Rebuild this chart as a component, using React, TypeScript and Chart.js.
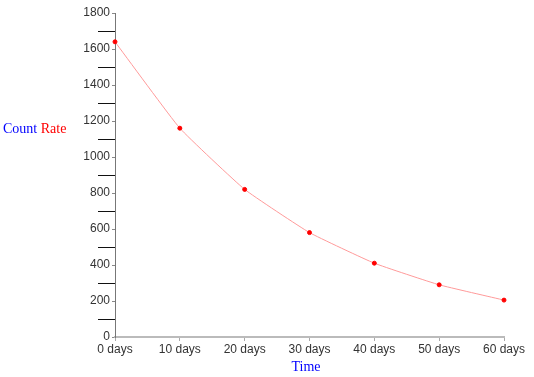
import React, { useEffect, useRef } from "react";
import { Chart, registerables } from "chart.js";

Chart.register(...registerables);

const categories = ["0 days", "10 days", "20 days", "30 days", "40 days", "50 days", "60 days"];
const countRate = [1640, 1160, 820, 580, 410, 290, 205];
const minorTicks = [100, 300, 500, 700, 900, 1100, 1300, 1500, 1700];
const yTitleParts = [
  { text: "Count", color: "#0000ff" },
  { text: " Rate", color: "#ff0000" },
];
const xTitle = "Time";

const titlesPlugin = {
  id: "customTitles",
  afterDraw(chart: any) {
    const ctx = chart.ctx;
    const y = chart.scales.y;
    const area = chart.chartArea;
    ctx.save();
    ctx.strokeStyle = "#111";
    ctx.lineWidth = 1;
    minorTicks.forEach((v) => {
      const py = Math.round(y.getPixelForValue(v)) + 0.5;
      ctx.beginPath();
      ctx.moveTo(area.left - 17, py);
      ctx.lineTo(area.left, py);
      ctx.stroke();
    });
    ctx.font = "14px 'Liberation Serif', serif";
    ctx.textBaseline = "middle";
    ctx.textAlign = "left";
    let x = 3;
    yTitleParts.forEach((p) => {
      ctx.fillStyle = p.color;
      ctx.fillText(p.text, x, 129);
      x += ctx.measureText(p.text).width;
    });
    ctx.fillStyle = "#0000ff";
    ctx.textAlign = "center";
    ctx.fillText(xTitle, 306, 367);
    ctx.restore();
  },
};

export default function App() {
  const ref = useRef<HTMLCanvasElement | null>(null);
  useEffect(() => {
    if (!ref.current) return;
    const chart = new Chart(ref.current, {
      type: "line",
      data: {
        labels: categories,
        datasets: [
          {
            data: countRate,
            borderColor: "#ff9a9a",
            borderWidth: 1,
            pointBackgroundColor: "#ff0000",
            pointBorderColor: "#ff0000",
            pointRadius: 2,
            pointBorderWidth: 1,
            tension: 0.12,
            fill: false,
          },
        ],
      },
      options: {
        animation: false,
        responsive: false,
        layout: { padding: { left: 0, right: 30, top: 13, bottom: 0 } },
        plugins: { legend: { display: false }, tooltip: { enabled: false } },
        scales: {
          x: {
            type: "category",
            offset: false,
            grid: { drawOnChartArea: false, drawTicks: true, tickLength: 4, color: "#aaa" },
            border: { color: "#bbb", width: 2 },
            ticks: {
              font: { family: "'Liberation Sans', Arial, sans-serif", size: 12 },
              color: "#333",
              padding: 1,
              maxRotation: 0,
              autoSkip: false,
            },
            afterFit: (s: any) => {
              s.height = 40;
            },
          },
          y: {
            min: 0,
            max: 1800,
            grid: { drawOnChartArea: false, drawTicks: true, tickLength: 3, color: "#888" },
            border: { color: "#777", width: 1 },
            ticks: {
              stepSize: 200,
              font: { family: "'Liberation Sans', Arial, sans-serif", size: 12 },
              color: "#333",
              padding: 2,
              callback: (v: any) => String(v),
            },
            afterFit: (s: any) => {
              s.width = 115;
            },
          },
        },
      },
      plugins: [titlesPlugin],
    });
    return () => chart.destroy();
  }, []);
  return (
    <div style={{ position: "fixed", left: 0, top: 0, width: 534, height: 377, background: "#fff" }}>
      <canvas ref={ref} width={534} height={377} style={{ display: "block" }} />
    </div>
  );
}
